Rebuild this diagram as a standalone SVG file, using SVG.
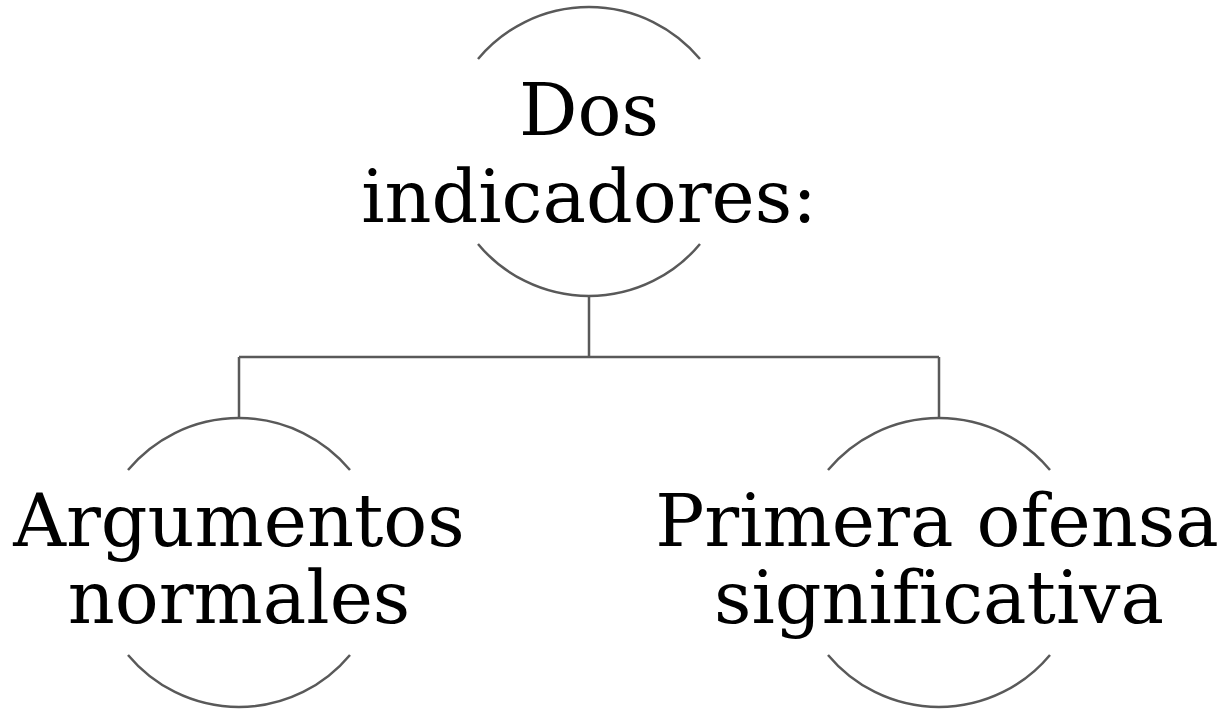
<svg xmlns="http://www.w3.org/2000/svg" width="1227" height="709" viewBox="0 0 1227 709">
<style>
.arc{fill:none;stroke:#595959;stroke-width:2.5}
.conn{fill:none;stroke:#595959;stroke-width:2.5}
.lbl{font-family:"DejaVu Serif","Liberation Serif",serif;font-size:73px;fill:#000;text-anchor:middle;font-variant-ligatures:none;font-feature-settings:"liga" 0}
</style>
<rect width="1227" height="709" fill="#fff"/>
<g id="connectors">
<path class="conn" d="M589 296 V357 M239 357 H939 M239 357 V418 M939 357 V418"/>
</g>
<g id="node-top">
<path class="arc" d="M478 59 A144.5 144.5 0 0 1 700 59"/>
<path class="arc" d="M478 244 A144.5 144.5 0 0 0 700 244"/>
<text class="lbl" x="589" y="135">Dos</text>
<text class="lbl" x="589" y="222">indicadores:</text>
</g>
<g id="node-left">
<path class="arc" d="M128 470 A144.5 144.5 0 0 1 350 470"/>
<path class="arc" d="M128 655 A144.5 144.5 0 0 0 350 655"/>
<text class="lbl" x="239" y="546">Argumentos</text>
<text class="lbl" x="239" y="623">normales</text>
</g>
<g id="node-right">
<path class="arc" d="M828 470 A144.5 144.5 0 0 1 1050 470"/>
<path class="arc" d="M828 655 A144.5 144.5 0 0 0 1050 655"/>
<text class="lbl" x="937" y="546">Primera ofensa</text>
<text class="lbl" x="939" y="623">significativa</text>
</g>
</svg>
